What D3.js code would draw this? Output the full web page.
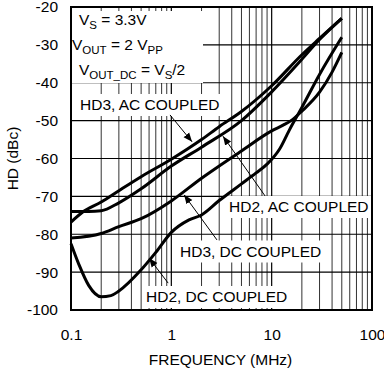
<!DOCTYPE html>
<html>
<head>
  <meta charset="utf-8">
  <script src="https://d3js.org/d3.v7.min.js"></script>
  <style>
    body { margin: 0; background: #fff; }
    text { font-family: "Liberation Sans", Arial, sans-serif; fill: #000; }
  </style>
</head>
<body>

<svg width="384" height="369"></svg>

<script>
  // curve data (frequency in MHz, HD in dBc)
  const hd3AcFreq = [0.1, 0.13, 0.2, 0.3, 0.5, 1, 2, 3, 5, 10, 20, 30, 50];
  const hd3AcVal  = [-76.8, -74.2, -71.5, -68.5, -64.8, -60.2, -55, -51.6, -47.6, -40.8, -32.6, -28.3, -23];

  const hd2AcFreq = [0.1, 0.15, 0.2, 0.3, 0.5, 1, 2, 5, 10, 20, 30, 50];
  const hd2AcVal  = [-74, -74, -73.8, -71.7, -68, -62, -57, -50, -42.4, -33.8, -28.6, -23];

  const hd3DcFreq = [0.1, 0.2, 0.3, 0.5, 1, 2, 5, 10, 13, 16, 20, 30, 40, 50];
  const hd3DcVal  = [-81, -79.8, -78, -75.9, -71.2, -65.2, -58, -52.7, -51.2, -49.8, -47.5, -42.5, -37.2, -32];

  const hd2DcFreq = [0.1, 0.12, 0.15, 0.2, 0.25, 0.3, 0.5, 0.7, 1, 1.5, 2, 3, 5, 7, 9, 12, 15, 20, 30, 50];
  const hd2DcVal  = [-82.5, -88, -93.5, -96.5, -96.2, -95, -89.4, -84.8, -79.5, -76.2, -74.9, -71.1, -66.7, -63.8, -61.5, -57.5, -52.5, -46.5, -37.8, -28];

  const xTicks = [0.1, 1, 10, 100];
  const yTicks = [-20, -30, -40, -50, -60, -70, -80, -90, -100];

  const margin = {left: 71, top: 7};
  const width = 301;
  const height = 303;

  const svg = d3.select("svg");
  const g = svg.append("g").attr("transform", `translate(${margin.left},${margin.top})`);

  const xScale = d3.scaleLog().domain([0.1, 100]).range([0, width]);
  const yScale = d3.scaleLinear().domain([-100, -20]).range([height, 0]);

  // grid
  const minor = [];
  [0.1, 1, 10].forEach(d => { for (let k = 2; k <= 9; k++) minor.push(d * k); });

  g.selectAll(".vminor")
    .data(minor)
    .enter().append("line")
    .attr("x1", d => xScale(d)).attr("x2", d => xScale(d))
    .attr("y1", 0).attr("y2", height)
    .attr("stroke", "#333").attr("stroke-width", 1);

  g.selectAll(".vmajor")
    .data([1, 10])
    .enter().append("line")
    .attr("x1", d => xScale(d)).attr("x2", d => xScale(d))
    .attr("y1", 0).attr("y2", height)
    .attr("stroke", "#000").attr("stroke-width", 1.2);

  g.selectAll(".hgrid")
    .data(yTicks)
    .enter().append("line")
    .attr("x1", 0).attr("x2", width)
    .attr("y1", d => yScale(d)).attr("y2", d => yScale(d))
    .attr("stroke", "#000").attr("stroke-width", 1.2);

  const bgLayer = g.append("g");
  const curveLayer = g.append("g");
  const textLayer = g.append("g");

  // frame
  g.append("rect")
    .attr("width", width).attr("height", height)
    .attr("fill", "none").attr("stroke", "#000").attr("stroke-width", 2);

  // curves
  const line = d3.line()
    .x(d => xScale(d[0]))
    .y(d => yScale(d[1]))
    .curve(d3.curveMonotoneX);

  const series = [
    [hd3AcFreq, hd3AcVal],
    [hd2AcFreq, hd2AcVal],
    [hd3DcFreq, hd3DcVal],
    [hd2DcFreq, hd2DcVal]
  ];

  curveLayer.selectAll("path")
    .data(series)
    .enter().append("path")
    .attr("d", s => line(d3.zip(s[0], s[1])))
    .attr("fill", "none")
    .attr("stroke", "#000")
    .attr("stroke-width", 3)
    .attr("stroke-linejoin", "round");

  // text with white box behind it; parts are strings or {s: "subscript"}
  function label(parts, x, y, pad) {
    const t = textLayer.append("text")
      .attr("x", x).attr("y", y)
      .attr("font-size", "15.5px");
    let shift = 0;
    parts.forEach(p => {
      if (typeof p === "object") {
        t.append("tspan").attr("font-size", "11.5px").attr("dy", 4 - shift).text(p.s);
        shift = 4;
      } else {
        t.append("tspan").attr("dy", -shift).text(p);
        shift = 0;
      }
    });
    const b = t.node().getBBox();
    bgLayer.append("rect")
      .attr("x", b.x - pad).attr("y", b.y - pad + 1)
      .attr("width", b.width + 2 * pad).attr("height", b.height + 2 * pad - 1)
      .attr("fill", "#fff");
    return t;
  }

  // condition block
  bgLayer.append("rect")
    .attr("x", 1).attr("y", 4).attr("width", 131).attr("height", 72)
    .attr("fill", "#fff");
  label(["V", {s: "S"}, " = 3.3V"], 8, 18, 1);
  label(["V", {s: "OUT"}, " = 2 V", {s: "PP"}], 1, 43, 1);
  label(["V", {s: "OUT_DC"}, " = V", {s: "S"}, "/2"], 8, 68, 1);

  label(["HD3, AC COUPLED"], 9, 103, 3);
  label(["HD2, AC COUPLED"], 158, 205, 3);
  label(["HD3, DC COUPLED"], 109, 249.5, 3);
  label(["HD2, DC COUPLED"], 75, 295, 3);

  // arrows (tail -> tip, in data units)
  const arrows = [
    {from: [0.97, -48.5], to: [1.61, -55.6]},
    {from: [8.6, -69.9], to: [3.27, -54.1]},
    {from: [2.85, -81.5], to: [1.34, -69.6]},
    {from: [0.93, -92.9], to: [0.6, -86.3]}
  ];

  svg.append("defs").append("marker")
    .attr("id", "head")
    .attr("viewBox", "0 0 10 10")
    .attr("refX", 10).attr("refY", 5)
    .attr("markerWidth", 9).attr("markerHeight", 9)
    .attr("markerUnits", "userSpaceOnUse")
    .attr("orient", "auto")
    .append("path")
    .attr("d", "M0,1 L10,5 L0,9 Z")
    .attr("fill", "#000");

  textLayer.selectAll(".arrow")
    .data(arrows)
    .enter().append("line")
    .attr("x1", d => xScale(d.from[0])).attr("y1", d => yScale(d.from[1]))
    .attr("x2", d => xScale(d.to[0])).attr("y2", d => yScale(d.to[1]))
    .attr("stroke", "#000").attr("stroke-width", 1)
    .attr("marker-end", "url(#head)");

  // axes
  const xAxis = svg.append("g")
    .attr("transform", `translate(${margin.left},${margin.top + height})`)
    .call(d3.axisBottom(xScale).tickValues(xTicks).tickFormat(d => String(d)).tickSize(0).tickPadding(19));
  const yAxis = svg.append("g")
    .attr("transform", `translate(${margin.left},${margin.top})`)
    .call(d3.axisLeft(yScale).tickValues(yTicks).tickFormat(d => String(d)).tickSize(0).tickPadding(13));

  [xAxis, yAxis].forEach(a => {
    a.select(".domain").remove();
    a.selectAll("text")
      .attr("font-size", "15.5px")
      .attr("font-family", "Liberation Sans, Arial, sans-serif")
      .attr("fill", "#000");
  });

  svg.append("text")
    .attr("x", margin.left + width / 2 - 1)
    .attr("y", 365)
    .attr("text-anchor", "middle")
    .attr("font-size", "15.5px")
    .text("FREQUENCY (MHz)");

  svg.append("text")
    .attr("transform", `translate(18,${margin.top + height / 2}) rotate(-90)`)
    .attr("text-anchor", "middle")
    .attr("font-size", "15.5px")
    .text("HD (dBc)");
</script>

</body>
</html>
